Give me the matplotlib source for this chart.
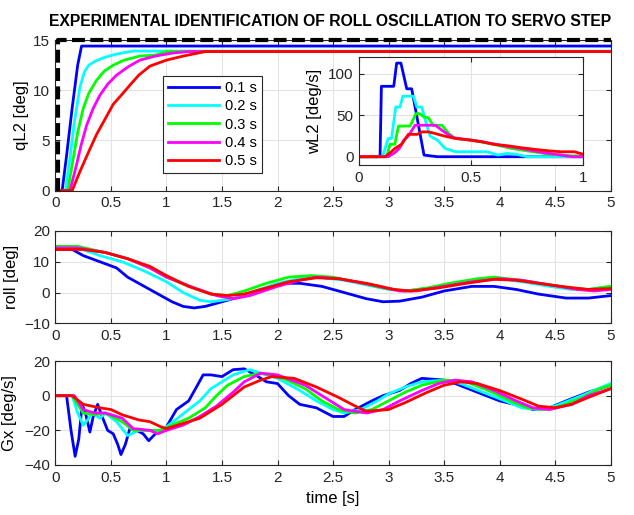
import numpy as np
import matplotlib
matplotlib.use('Agg')
import matplotlib.pyplot as plt

plt.rcParams['font.family'] = ['Liberation Sans', 'DejaVu Sans']

############################## Data ############################################
labels = ['0.1 s', '0.2 s', '0.3 s', '0.4 s', '0.5 s']
colors = ['#0000ff', '#00ffff', '#00ff00', '#ff00ff', '#ff0000']

# reference step (black dashed)
ref_t = [0.025, 0.025, 5.0]
ref_q = [0.0, 15.0, 15.0]

# qL2 [deg]
q_t = [
    [0, 0.06, 0.10, 0.15, 0.20, 0.235, 5],
    [0, 0.09, 0.13, 0.17, 0.22, 0.26, 0.30, 0.36, 0.45, 0.55, 0.70, 1.0, 5],
    [0, 0.11, 0.16, 0.20, 0.25, 0.30, 0.37, 0.44, 0.52, 0.62, 0.76, 0.90, 1.0, 5],
    [0, 0.13, 0.19, 0.23, 0.28, 0.34, 0.40, 0.47, 0.55, 0.65, 0.76, 0.90, 1.05, 1.2, 5],
    [0, 0.15, 0.22, 0.30, 0.37, 0.45, 0.52, 0.60, 0.67, 0.75, 0.85, 1.0, 1.15, 1.35, 5],
]
q_v = [
    [0, 0, 3.5, 8.2, 12.5, 14.4, 14.4],
    [0, 0, 3.2, 6.8, 10.3, 11.8, 12.5, 12.9, 13.3, 13.6, 13.9, 13.9, 13.9],
    [0, 0, 3.2, 5.8, 8.2, 9.7, 11.0, 11.9, 12.5, 13.0, 13.4, 13.5, 13.85, 13.85],
    [0, 0, 2.6, 4.5, 6.5, 8.2, 9.5, 10.6, 11.5, 12.3, 13.0, 13.4, 13.7, 13.85, 13.85],
    [0, 0, 1.9, 3.9, 5.6, 7.2, 8.6, 9.6, 10.5, 11.5, 12.4, 13.0, 13.4, 13.85, 13.85],
]

# wL2 [deg/s] (inset)
w_t = [
    [0, 0.08, 0.094, 0.10, 0.155, 0.168, 0.187, 0.213, 0.235, 0.29, 0.35, 1],
    [0, 0.105, 0.13, 0.145, 0.164, 0.183, 0.195, 0.243, 0.258, 0.28, 0.30, 0.317,
     0.35, 0.384, 0.43, 0.57, 0.62, 0.66, 0.70, 0.75, 1],
    [0, 0.124, 0.138, 0.16, 0.176, 0.228, 0.254, 0.27, 0.29, 0.31, 0.33, 0.37,
     0.40, 0.43, 0.50, 0.60, 0.68, 0.75, 0.85, 0.95, 1],
    [0, 0.13, 0.16, 0.18, 0.20, 0.22, 0.25, 0.34, 0.38, 0.42, 0.50, 0.55, 0.65,
     0.72, 0.82, 0.90, 0.95, 1],
    [0, 0.116, 0.14, 0.16, 0.19, 0.22, 0.26, 0.28, 0.31, 0.34, 0.38, 0.43, 0.50,
     0.55, 0.60, 0.67, 0.72, 0.78, 0.85, 0.90, 0.96, 1],
]
w_v = [
    [0, 0, 1, 85, 85, 113, 113, 82, 82, 2, 0, 0],
    [0, 0, 22, 22, 60, 60, 73, 73, 60, 60, 40, 25, 20, 10, 6, 6, 2, 4, 3, 0, 0],
    [0, 0, 15, 15, 37, 37, 52, 52, 48, 47, 38, 38, 28, 22, 20, 15, 10, 7, 3, 1, 1],
    [0, 0, 5, 10, 20, 25, 38, 38, 30, 23, 20, 18, 13, 10, 5, 2, 0, 0],
    [0, 0, 5, 10, 15, 27, 27, 30, 30, 28, 25, 22, 20, 18, 15, 13, 11, 9, 7, 6, 6, 3],
]

# roll [deg]
r_t = [
    [0, 0.15, 0.25, 0.4, 0.55, 0.65, 0.8, 0.95, 1.05, 1.15, 1.25, 1.35, 1.5, 1.65,
     1.85, 2.05, 2.2, 2.4, 2.6, 2.8, 2.95, 3.1, 3.3, 3.5, 3.75, 3.95, 4.15, 4.35,
     4.6, 4.8, 5],
    [0, 0.2, 0.4, 0.6, 0.8, 1.0, 1.15, 1.3, 1.4, 1.6, 1.8, 2.0, 2.2, 2.35, 2.6,
     2.8, 3.0, 3.15, 3.4, 3.6, 3.85, 4.0, 4.2, 4.45, 4.65, 4.8, 5],
    [0, 0.2, 0.45, 0.65, 0.85, 1.0, 1.2, 1.4, 1.55, 1.7, 1.9, 2.1, 2.3, 2.5, 2.7,
     2.95, 3.15, 3.35, 3.55, 3.8, 3.95, 4.2, 4.45, 4.65, 4.8, 5],
    [0, 0.2, 0.45, 0.65, 0.85, 1.0, 1.25, 1.45, 1.6, 1.75, 2.0, 2.2, 2.35, 2.55,
     2.85, 3.1, 3.25, 3.5, 3.75, 4.0, 4.2, 4.45, 4.7, 4.85, 5],
    [0, 0.25, 0.45, 0.65, 0.85, 1.0, 1.2, 1.4, 1.55, 1.7, 1.9, 2.1, 2.35, 2.55,
     2.8, 3.05, 3.2, 3.45, 3.7, 3.95, 4.15, 4.35, 4.6, 4.8, 5],
]
r_v = [
    [14, 14, 12, 10, 8, 5, 2, -1, -3, -4.5, -5, -4.5, -3, -1.5, 1, 3, 3, 2, 0, -2,
     -3, -2.8, -1.5, 0.5, 2, 2, 1, -0.5, -1.8, -1.8, -1],
    [14.5, 14.5, 12, 10, 7, 3.5, 0, -2.5, -3, -2, 0.5, 3, 4.5, 5, 4, 2.5, 1, 0.5,
     1.5, 3, 4.5, 4.5, 3.5, 2, 1, 1, 2],
    [15, 15, 13, 11, 8, 5, 2, -0.5, -1, 0.5, 3, 5, 5.5, 5, 3.5, 1.5, 0.5, 1.5, 3,
     4.5, 5, 4, 2.5, 1.5, 1, 2],
    [14.5, 14.5, 13, 11, 8, 5, 1.5, -1, -2, -1, 2, 4, 5, 4.5, 2.5, 0.5, 0.5, 2,
     3.5, 4.5, 4, 2.5, 1, 0.5, 1],
    [14, 14, 13, 11, 8.5, 5.5, 2, -0.5, -1, -0.5, 1.5, 3.5, 4.8, 4.5, 3, 1, 0.5,
     1.5, 3, 4.3, 4, 3, 1.8, 1, 1.3],
]

# Gx [deg/s]
g_t = [
    [0, 0.1, 0.14, 0.177, 0.21, 0.24, 0.27, 0.31, 0.34, 0.38, 0.42, 0.47, 0.52,
     0.56, 0.59, 0.63, 0.67, 0.73, 0.79, 0.84, 0.9, 1.0, 1.09, 1.2, 1.27, 1.33,
     1.4, 1.5, 1.6, 1.7, 1.8, 1.9, 2.0, 2.1, 2.2, 2.35, 2.5, 2.6, 2.7, 2.85, 2.95,
     3.1, 3.2, 3.3, 3.5, 3.6, 3.8, 4.0, 4.2, 4.3, 4.45, 4.6, 4.8, 5],
    [0, 0.15, 0.2, 0.25, 0.29, 0.33, 0.4, 0.45, 0.55, 0.65, 0.75, 0.85, 0.92, 1.0,
     1.1, 1.2, 1.3, 1.4, 1.5, 1.6, 1.75, 1.9, 2.0, 2.2, 2.35, 2.5, 2.6, 2.75, 2.9,
     3.0, 3.15, 3.3, 3.5, 3.65, 3.85, 4.05, 4.2, 4.35, 4.5, 4.7, 4.85, 5],
    [0, 0.15, 0.25, 0.35, 0.45, 0.6, 0.7, 0.85, 0.95, 1.05, 1.2, 1.35, 1.45, 1.55,
     1.7, 1.85, 2.05, 2.25, 2.4, 2.55, 2.7, 2.85, 3.0, 3.15, 3.3, 3.5, 3.7, 3.9,
     4.1, 4.25, 4.4, 4.55, 4.75, 4.9, 5],
    [0, 0.17, 0.25, 0.35, 0.45, 0.6, 0.7, 0.85, 0.92, 1.0, 1.15, 1.3, 1.45, 1.6,
     1.7, 1.85, 2.0, 2.25, 2.45, 2.6, 2.8, 2.95, 3.1, 3.3, 3.45, 3.6, 3.75, 3.95,
     4.15, 4.3, 4.45, 4.65, 4.8, 5],
    [0, 0.15, 0.25, 0.4, 0.5, 0.6, 0.75, 0.85, 0.95, 1.0, 1.15, 1.3, 1.4, 1.5, 1.6,
     1.7, 1.85, 1.95, 2.15, 2.35, 2.55, 2.7, 2.8, 3.0, 3.15, 3.35, 3.5, 3.65, 3.8,
     4.0, 4.2, 4.35, 4.5, 4.65, 4.8, 5],
]
g_v = [
    [0, 0, -20, -35, -25, -5, -10, -21, -12, -5, -12, -20, -22, -28, -34, -28, -19,
     -20, -22, -26, -22, -18, -8, -3, 5, 12, 12, 11, 15, 15.5, 12, 8, 7, 0, -5, -7,
     -12, -12, -8, -3, 0, 3, 7, 10, 9, 7, 2, -3, -6, -8, -7, -3, 2, 6],
    [0, 0, -10, -17, -14, -10, -13, -10, -15, -23, -20, -20, -21, -18, -13, -8, -3,
     4, 8, 12, 15, 12, 10, 3, -3, -8, -10, -8, -3, 1, 5, 8, 9, 7, 2, -3, -7, -8,
     -6, -1, 3, 7],
    [0, 0, -10, -11, -10, -15, -20, -20, -20, -17, -13, -7, 0, 6, 11, 13, 10, 4,
     -3, -8, -10, -8, -3, 2, 6, 9, 8, 3, -3, -7, -8, -6, -1, 4, 6],
    [0, 0, -8, -10, -10, -13, -19, -20, -22, -20, -17, -12, -6, 2, 8, 13, 12, 6,
     -2, -8, -10, -8, -3, 3, 7, 9, 8, 3, -3, -7, -8, -5, 0, 4],
    [0, 0, -5, -7, -8, -11, -14, -15, -18, -19, -16, -13, -9, -5, 0, 5, 9, 11, 10,
     5, -1, -6, -9, -8, -4, 2, 6, 8, 7, 3, -2, -6, -7, -5, -1, 4],
]

tick_lbl = ['0', '0.5', '1', '1.5', '2', '2.5', '3', '3.5', '4', '4.5', '5']

############################## Helpers #########################################
def matlab_axes(ax):
    ax.grid(True, color='#e3e3e3', linewidth=0.8)
    ax.set_axisbelow(True)
    ax.tick_params(direction='in', top=True, right=True, length=3.5,
                   width=0.8, labelsize=11, colors='#262626', pad=4)
    for s in ax.spines.values():
        s.set_color('#262626')
        s.set_linewidth(0.8)

def time_axis(ax):
    ax.set_xlim(0, 5)
    ax.set_xticks(np.arange(0, 5.01, 0.5))
    ax.set_xticklabels(tick_lbl)

############################## Figure ##########################################
fig = plt.figure(figsize=(6.34, 5.15), dpi=100)
ax1 = fig.add_axes([0.0875, 0.6297, 0.8755, 0.2926])
ax2 = fig.add_axes([0.0875, 0.3722, 0.8755, 0.1793])
ax3 = fig.add_axes([0.0875, 0.0971, 0.8755, 0.2019])
ins = fig.add_axes([0.5662, 0.6796, 0.3538, 0.2091])

# top: qL2
ax1.plot(ref_t, ref_q, color='black', linestyle=(0, (3.1, 1.3)), linewidth=3,
         clip_on=False, zorder=5)
for t, v, c, lab in zip(q_t, q_v, colors, labels):
    ax1.plot(t, v, color=c, linewidth=2, label=lab)
time_axis(ax1)
ax1.set_ylim(0, 15)
ax1.set_yticks([0, 5, 10, 15])
ax1.set_ylabel('qL2 [deg]', fontsize=12, labelpad=2.5)
matlab_axes(ax1)
handles = ax1.get_lines()[1:]
leg = ax1.legend(handles, labels, loc='upper left', bbox_to_anchor=(0.193, 0.763),
                 borderaxespad=0, fontsize=10.5, handlelength=3.5, labelspacing=0.3,
                 fancybox=False, framealpha=1, edgecolor='#262626',
                 borderpad=0.35, handletextpad=0.4)
leg.get_frame().set_linewidth(0.8)
ax1.set_title('EXPERIMENTAL IDENTIFICATION OF ROLL OSCILLATION TO SERVO STEP',
              fontsize=11.3, fontweight='bold', pad=10, x=0.495)

# inset: wL2
for t, v, c in zip(w_t, w_v, colors):
    ins.plot(t, v, color=c, linewidth=2)
ins.set_xlim(0, 1)
ins.set_ylim(-10, 120)
ins.set_xticks([0, 0.5, 1])
ins.set_xticklabels(['0', '0.5', '1'])
ins.set_yticks([0, 50, 100])
ins.set_ylabel('wL2 [deg/s]', fontsize=12, labelpad=4)
matlab_axes(ins)
ins.set_facecolor('white')

# middle: roll
for t, v, c in zip(r_t, r_v, colors):
    ax2.plot(t, v, color=c, linewidth=2)
time_axis(ax2)
ax2.set_ylim(-10, 20)
ax2.set_yticks([-10, 0, 10, 20])
ax2.set_ylabel('roll [deg]', fontsize=12, labelpad=1)
ax2.yaxis.set_label_coords(-0.065, 0.5)
matlab_axes(ax2)

# bottom: Gx
for t, v, c in zip(g_t, g_v, colors):
    ax3.plot(t, v, color=c, linewidth=2)
time_axis(ax3)
ax3.set_ylim(-40, 20)
ax3.set_yticks([-40, -20, 0, 20])
ax3.set_ylabel('Gx [deg/s]', fontsize=12)
ax3.yaxis.set_label_coords(-0.07, 0.5)
ax3.set_xlabel('time [s]', fontsize=12, labelpad=5)
matlab_axes(ax3)

fig.savefig('out.png', dpi=100)
